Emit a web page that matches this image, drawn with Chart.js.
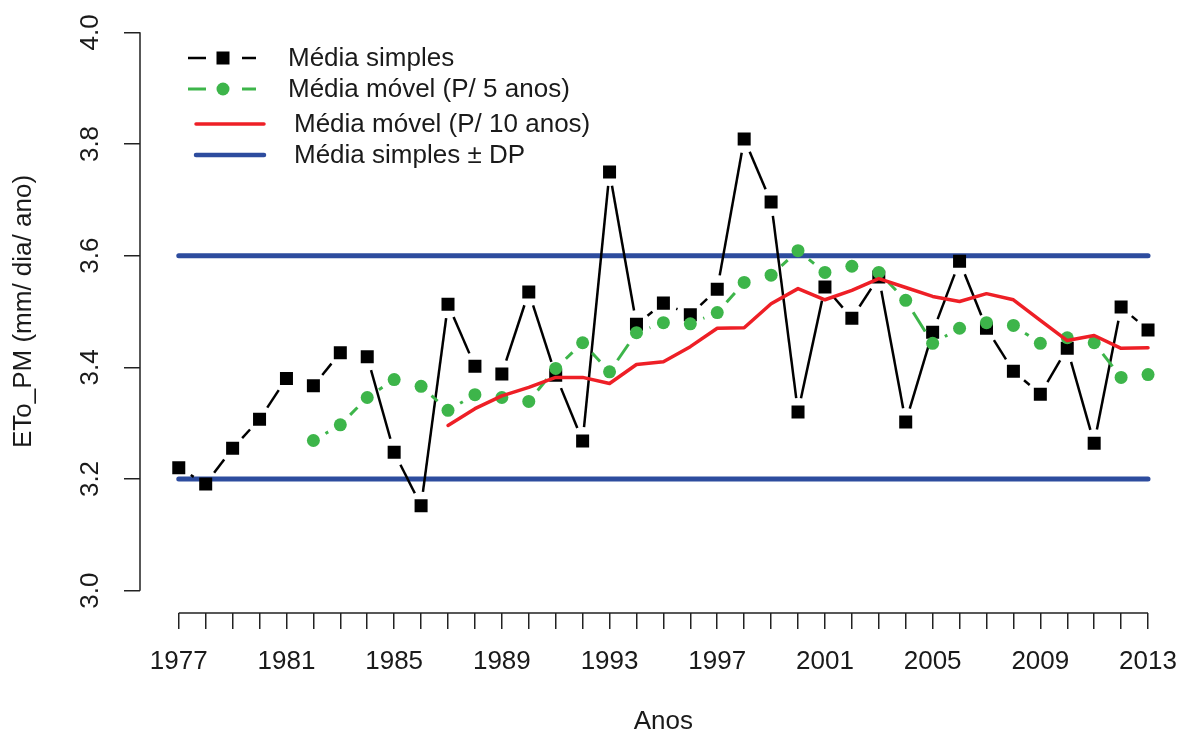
<!DOCTYPE html>
<html>
<head>
<meta charset="utf-8">
<script src="https://cdn.jsdelivr.net/npm/chart.js@4.4.1/dist/chart.umd.min.js"></script>
<style>
  html, body { margin: 0; padding: 0; background: #fff; }
  #wrap { width: 1196px; height: 737px; }
</style>
</head>
<body>
<div id="wrap"><canvas id="c" width="1196" height="737"></canvas></div>
<script>
// ---- data ----
const years = [1977,1978,1979,1980,1981,1982,1983,1984,1985,1986,1987,1988,1989,1990,1991,1992,1993,1994,1995,1996,1997,1998,1999,2000,2001,2002,2003,2004,2005,2006,2007,2008,2009,2010,2011,2012,2013];
const mediaSimples = [3.220,3.191,3.255,3.307,3.380,3.367,3.426,3.419,3.248,3.152,3.513,3.402,3.388,3.535,3.386,3.268,3.750,3.477,3.515,3.494,3.540,3.809,3.696,3.320,3.544,3.488,3.562,3.302,3.463,3.590,3.470,3.393,3.352,3.434,3.264,3.508,3.467];
const mediaMovel5 = [null,null,null,null,null,3.269,3.297,3.346,3.378,3.366,3.323,3.351,3.346,3.339,3.398,3.444,3.392,3.462,3.480,3.478,3.498,3.552,3.565,3.609,3.570,3.581,3.570,3.520,3.443,3.470,3.480,3.475,3.443,3.453,3.444,3.382,3.387];
const mediaMovel10 = [null,null,null,null,null,null,null,null,null,null,3.296,3.326,3.349,3.364,3.382,3.382,3.371,3.405,3.410,3.437,3.470,3.471,3.514,3.541,3.521,3.538,3.559,3.543,3.527,3.518,3.532,3.521,3.484,3.448,3.457,3.434,3.435];
const dpLimits = [3.2, 3.6];
const yTicks = [3.0, 3.2, 3.4, 3.6, 3.8, 4.0];
const xLabelYears = [1977,1981,1985,1989,1993,1997,2001,2005,2009,2013];
const seriesNames = ['Média simples', 'Média móvel (P/ 5 anos)', 'Média móvel (P/ 10 anos)', 'Média simples ± DP'];
const axisTitles = { x: 'Anos', y: 'ETo_PM (mm/ dia/ ano)' };

const FONT = '"Liberation Sans", Arial, Helvetica, sans-serif';
const TXT = '#1a1a1a';
const C_BLACK = '#000000', C_GREEN = '#3db54a', C_RED = '#ee1f26', C_BLUE = '#2d4c9e';

const toXY = arr => arr.map((v, i) => ({ x: years[i], y: v })).filter(p => p.y !== null);

// line segments with gaps around points (R type = "b")
const gapPlugin = {
  id: 'gapLines',
  beforeDatasetDraw(chart, args) {
    const ds = chart.data.datasets[args.index];
    if (!ds.gapLine) return;
    const pts = args.meta.data;
    const ctx = chart.ctx;
    ctx.save();
    ctx.beginPath();
    ctx.rect(chart.chartArea.left, chart.chartArea.top, chart.chartArea.width, chart.chartArea.height);
    ctx.clip();
    ctx.strokeStyle = ds.gapLine.color;
    ctx.lineWidth = ds.gapLine.width;
    ctx.lineCap = 'butt';
    const g = ds.gapLine.gap;
    for (let i = 1; i < pts.length; i++) {
      const a = pts[i - 1], b = pts[i];
      if (a.skip || b.skip) continue;
      const dx = b.x - a.x, dy = b.y - a.y, L = Math.hypot(dx, dy);
      if (L <= 2 * g) continue;
      const ux = dx / L, uy = dy / L;
      ctx.beginPath();
      ctx.moveTo(a.x + ux * g, a.y + uy * g);
      ctx.lineTo(b.x - ux * g, b.y - uy * g);
      ctx.stroke();
    }
    ctx.restore();
  }
};

// R-style axis lines spanning only the tick range
const axisPlugin = {
  id: 'rAxes',
  afterDraw(chart) {
    const { ctx, chartArea, scales } = chart;
    ctx.save();
    ctx.strokeStyle = '#222';
    ctx.lineWidth = 1.5;
    ctx.beginPath();
    const xl = chartArea.left;
    ctx.moveTo(xl, scales.y.getPixelForValue(yTicks[0]));
    ctx.lineTo(xl, scales.y.getPixelForValue(yTicks[yTicks.length - 1]));
    const yb = chartArea.bottom;
    ctx.moveTo(scales.x.getPixelForValue(years[0]), yb);
    ctx.lineTo(scales.x.getPixelForValue(years[years.length - 1]), yb);
    ctx.stroke();
    ctx.restore();
  }
};

// legend drawn inside the plot (top-left)
const legendPlugin = {
  id: 'rLegend',
  afterDraw(chart) {
    const ctx = chart.ctx;
    ctx.save();
    ctx.font = '26px ' + FONT;
    ctx.fillStyle = TXT;
    ctx.textBaseline = 'middle';
    ctx.textAlign = 'left';
    const rows = [
      { y: 58, kind: 'square', color: C_BLACK, tx: 288 },
      { y: 89, kind: 'circle', color: C_GREEN, tx: 288 },
      { y: 124, kind: 'line', color: C_RED, tx: 294, w: 3.5 },
      { y: 155, kind: 'line', color: C_BLUE, tx: 294, w: 4.5 }
    ];
    rows.forEach((r, i) => {
      ctx.strokeStyle = r.color;
      ctx.fillStyle = r.color;
      if (r.kind === 'line') {
        ctx.lineWidth = r.w;
        ctx.lineCap = 'round';
        ctx.beginPath(); ctx.moveTo(196, r.y); ctx.lineTo(264, r.y); ctx.stroke();
      } else {
        ctx.lineWidth = r.kind === 'square' ? 2.5 : 3;
        ctx.lineCap = 'butt';
        ctx.beginPath();
        ctx.moveTo(188, r.y); ctx.lineTo(206, r.y);
        ctx.moveTo(242, r.y); ctx.lineTo(256, r.y);
        ctx.stroke();
        if (r.kind === 'square') {
          ctx.fillRect(223 - 6.5, r.y - 6.5, 13, 13);
        } else {
          ctx.beginPath(); ctx.arc(223, r.y, 6.5, 0, Math.PI * 2); ctx.fill();
        }
      }
      ctx.fillStyle = TXT;
      ctx.fillText(seriesNames[i], r.tx, r.y + 1);
    });
    ctx.restore();
  }
};

const gridCfg = { drawOnChartArea: false, drawTicks: true, tickLength: 16, color: '#222', lineWidth: 1.5 };

new Chart(document.getElementById('c'), {
  type: 'line',
  data: {
    datasets: [
      {
        label: seriesNames[2], data: toXY(mediaMovel10), order: 0,
        borderColor: C_RED, borderWidth: 3.5, pointRadius: 0, tension: 0,
        borderJoinStyle: 'round', borderCapStyle: 'round', fill: false
      },
      {
        label: seriesNames[1], data: toXY(mediaMovel5), order: 1,
        showLine: false, pointStyle: 'circle', pointRadius: 6.5, pointBorderWidth: 0,
        pointBackgroundColor: C_GREEN, borderColor: C_GREEN, backgroundColor: C_GREEN,
        gapLine: { color: C_GREEN, width: 3, gap: 14 }
      },
      {
        label: seriesNames[0], data: toXY(mediaSimples), order: 2,
        showLine: false, pointStyle: 'rect', pointRadius: 9.2, pointBorderWidth: 0,
        pointBackgroundColor: C_BLACK, borderColor: C_BLACK, backgroundColor: C_BLACK,
        gapLine: { color: C_BLACK, width: 2.5, gap: 14 }
      },
      {
        label: seriesNames[3], data: [{ x: years[0], y: dpLimits[1] }, { x: years[years.length - 1], y: dpLimits[1] }], order: 3,
        borderColor: C_BLUE, borderWidth: 5, pointRadius: 0, borderCapStyle: 'round'
      },
      {
        label: seriesNames[3] + ' (inf)', data: [{ x: years[0], y: dpLimits[0] }, { x: years[years.length - 1], y: dpLimits[0] }], order: 4,
        borderColor: C_BLUE, borderWidth: 5, pointRadius: 0, borderCapStyle: 'round'
      }
    ]
  },
  options: {
    responsive: false,
    animation: false,
    layout: { padding: { top: 10, right: 4, left: 0, bottom: 0 } },
    plugins: { legend: { display: false }, tooltip: { enabled: false } },
    scales: {
      x: {
        type: 'linear', min: 1975.56, max: 2014.44,
        afterBuildTicks: s => { s.ticks = years.map(v => ({ value: v })); },
        afterFit: s => { s.height = 124; s.paddingLeft = 0; s.paddingRight = 0; },
        grid: gridCfg,
        border: { display: false },
        ticks: {
          autoSkip: false, maxRotation: 0, minRotation: 0, padding: 17,
          color: TXT, font: { family: FONT, size: 26 },
          callback: v => xLabelYears.includes(v) ? String(v) : ''
        },
        title: { display: true, text: axisTitles.x, color: TXT, font: { family: FONT, size: 26 }, padding: { top: 0, bottom: 0 } }
      },
      y: {
        type: 'linear', min: 2.96, max: 4.04,
        afterBuildTicks: s => { s.ticks = yTicks.map(v => ({ value: v })); },
        afterFit: s => { s.width = 140; s.paddingTop = 0; s.paddingBottom = 0; },
        grid: gridCfg,
        border: { display: false },
        ticks: {
          minRotation: 90, maxRotation: 90, crossAlign: 'center', padding: 15,
          color: TXT, font: { family: FONT, size: 26 },
          callback: v => Number(v).toFixed(1)
        },
        title: { display: true, text: axisTitles.y, color: TXT, font: { family: FONT, size: 26 }, padding: { top: 8, bottom: 0 } }
      }
    }
  },
  plugins: [gapPlugin, axisPlugin, legendPlugin]
});
</script>
</body>
</html>
